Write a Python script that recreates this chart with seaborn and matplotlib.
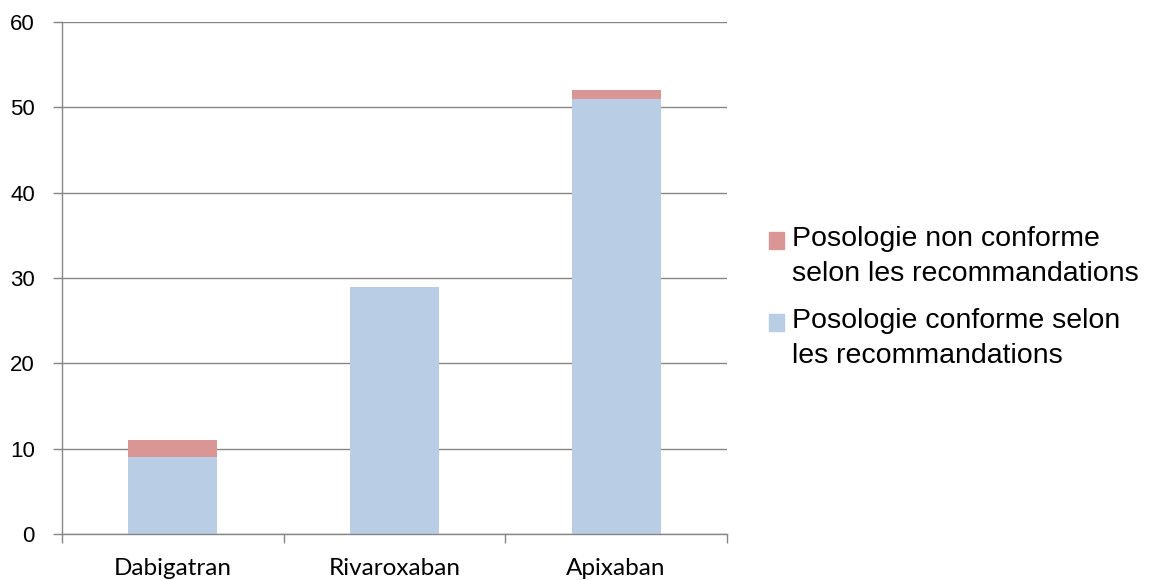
import matplotlib
matplotlib.use("Agg")
import pandas as pd
import matplotlib.pyplot as plt
import seaborn as sns
from matplotlib.patches import Patch, Rectangle
from matplotlib.legend_handler import HandlerPatch

# data
drugs = ['Dabigatran', 'Rivaroxaban', 'Apixaban']
conforme = [9, 29, 51]
non_conforme = [2, 0, 1]
label_non = 'Posologie non conforme\nselon les recommandations'
label_conf = 'Posologie conforme selon\nles recommandations'
y_ticks = [0, 10, 20, 30, 40, 50, 60]

blue = '#B9CDE5'
red = '#D99694'
grey = '#868686'

df = pd.DataFrame({'Molecule': drugs, 'conforme': conforme, 'non_conforme': non_conforme})
df['total'] = df['conforme'] + df['non_conforme']

sns.set_style('white')
plt.rcParams['font.family'] = ['Liberation Sans', 'DejaVu Sans']
plt.rcParams['text.color'] = 'black'
plt.rcParams['xtick.labelcolor'] = 'black'
plt.rcParams['ytick.labelcolor'] = 'black'

fig = plt.figure(figsize=(11.54, 5.8), dpi=100)
ax = fig.add_axes([62 / 1154, 46 / 580, 665 / 1154, 512 / 580])

# stacked bars: total in red, conforme on top in blue
sns.barplot(data=df, x='Molecule', y='total', color=red, width=0.4,
            saturation=1, errorbar=None, linewidth=0, ax=ax)
sns.barplot(data=df, x='Molecule', y='conforme', color=blue, width=0.4,
            saturation=1, errorbar=None, linewidth=0, ax=ax)

ax.set_xlim(-0.5, 2.5)
ax.set_ylim(0, 60)
ax.set_yticks(y_ticks)
ax.set_xlabel('')
ax.set_ylabel('')

# category boundaries as ticks, names in between
ax.set_xticks([-0.5, 0.5, 1.5, 2.5])
ax.set_xticklabels([''] * 4)
ax.set_xticks([0, 1, 2], minor=True)
ax.set_xticklabels(drugs, minor=True, fontfamily='Lato', fontsize=17.5)
ax.tick_params(axis='x', which='major', direction='out', length=6.5, width=1, color=grey, bottom=True)
ax.tick_params(axis='x', which='minor', length=0, pad=17, bottom=True, labelcolor='black')
ax.tick_params(axis='y', direction='out', length=6.5, width=1, color=grey, labelsize=16, pad=13,
               left=True, labelcolor='black')

ax.set_axisbelow(True)
ax.yaxis.grid(True, color=grey, linewidth=1)
ax.xaxis.grid(False)
for side in ['top', 'right']:
    ax.spines[side].set_visible(False)
for side in ['left', 'bottom']:
    ax.spines[side].set_color(grey)
    ax.spines[side].set_linewidth(1)


# legend square sits on the first line of the two-line label
def first_line_square(legend, orig_handle, xdescent, ydescent, width, height, fontsize):
    return Rectangle((-xdescent, -ydescent + 11.5), width, height)


handles = [Patch(color=red, label=label_non), Patch(color=blue, label=label_conf)]
leg = fig.legend(handles=handles, loc='center left', bbox_to_anchor=(0.666, 0.487),
                 frameon=False, fontsize=20.5, handlelength=0.53, handleheight=0.53,
                 handletextpad=0.3, labelspacing=0.72, borderaxespad=0, borderpad=0,
                 handler_map={Patch: HandlerPatch(patch_func=first_line_square)})
for t in leg.get_texts():
    t.set_linespacing(1.45)
    t.set_color('black')

fig.savefig('out.png', dpi=100)
